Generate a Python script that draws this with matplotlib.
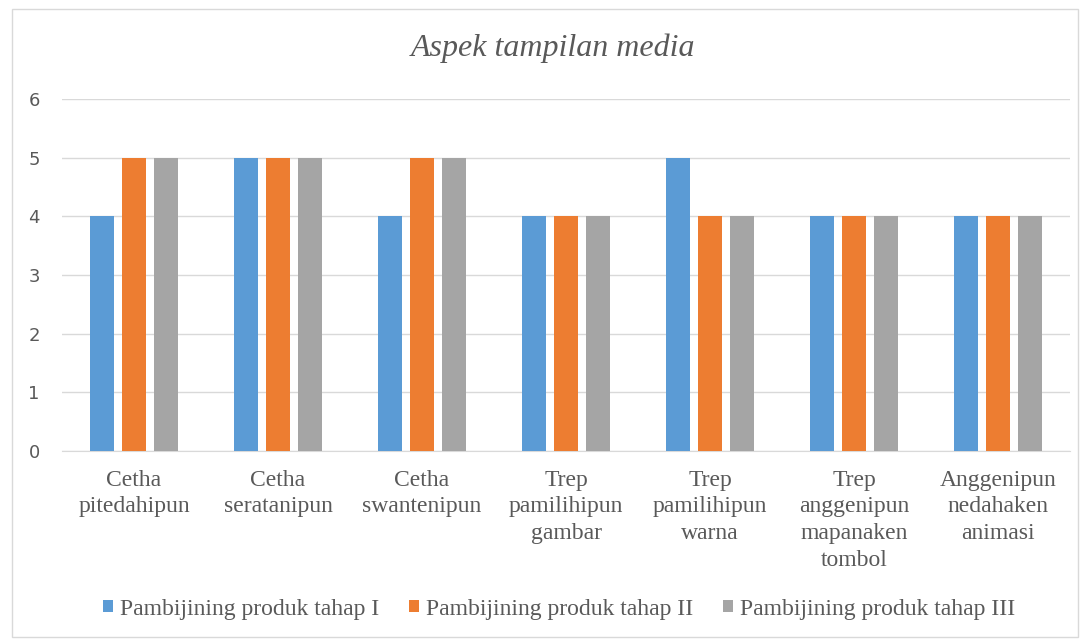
import matplotlib
matplotlib.use("Agg")
import matplotlib.pyplot as plt
import numpy as np
from matplotlib.patches import Rectangle

# data
categories = ["Cetha\npitedahipun", "Cetha\nseratanipun", "Cetha\nswantenipun",
              "Trep\npamilihipun\ngambar", "Trep\npamilihipun\nwarna",
              "Trep\nanggenipun\nmapanaken\ntombol", "Anggenipun\nnedahaken\nanimasi"]
series_names = ["Pambijining produk tahap I", "Pambijining produk tahap II",
                "Pambijining produk tahap III"]
tahap1 = [4, 5, 4, 4, 5, 4, 4]
tahap2 = [5, 5, 5, 4, 4, 4, 4]
tahap3 = [5, 5, 5, 4, 4, 4, 4]
colors = ["#5B9BD5", "#ED7D31", "#A5A5A5"]
text_col = "#595959"

fig = plt.figure(figsize=(10.88, 6.4), dpi=100)
ax = fig.add_axes([62 / 1088, 1 - 451 / 640, (1070 - 62) / 1088, (451 - 99) / 640])

x = np.arange(len(categories))
w = 24 / 144
step = 32 / 144
for i, (vals, name) in enumerate(zip([tahap1, tahap2, tahap3], series_names)):
    ax.bar(x + (i - 1) * step, vals, w, color=colors[i], label=name, zorder=3)

ax.set_xlim(-0.5, len(categories) - 0.5)
ax.set_ylim(0, 6)
ax.set_yticks(range(7))
ax.grid(axis="y", color="#D9D9D9", linewidth=1, zorder=0)
for s in ["top", "right", "left"]:
    ax.spines[s].set_visible(False)
ax.spines["bottom"].set_color("#D9D9D9")
ax.tick_params(axis="both", length=0, colors=text_col)
ax.tick_params(axis="y", labelsize=13, pad=16)
ax.set_xticks(x)
ax.set_xticklabels(categories, fontsize=17, family="Liberation Serif",
                   linespacing=1.35, va="top")
ax.tick_params(axis="x", pad=13.5)

fig.text(553 / 1088, 1 - 48 / 640, "Aspek tampilan media", ha="center", va="center",
         fontsize=23, style="italic", family="Liberation Serif", color=text_col)

leg = fig.legend(loc="center", bbox_to_anchor=(559 / 1088, 1 - 609 / 640), ncol=3,
                 frameon=False, prop={"family": "Liberation Serif", "size": 17},
                 handlelength=0.42, handleheight=0.42, handletextpad=0.3,
                 columnspacing=1.27)
for t in leg.get_texts():
    t.set_color(text_col)

# chart border
fig.patches.append(Rectangle((12 / 1088, 3 / 640), 1066 / 1088, 628 / 640,
                             transform=fig.transFigure, fill=False,
                             edgecolor="#D9D9D9", linewidth=1))

fig.savefig("out.png", dpi=100)
